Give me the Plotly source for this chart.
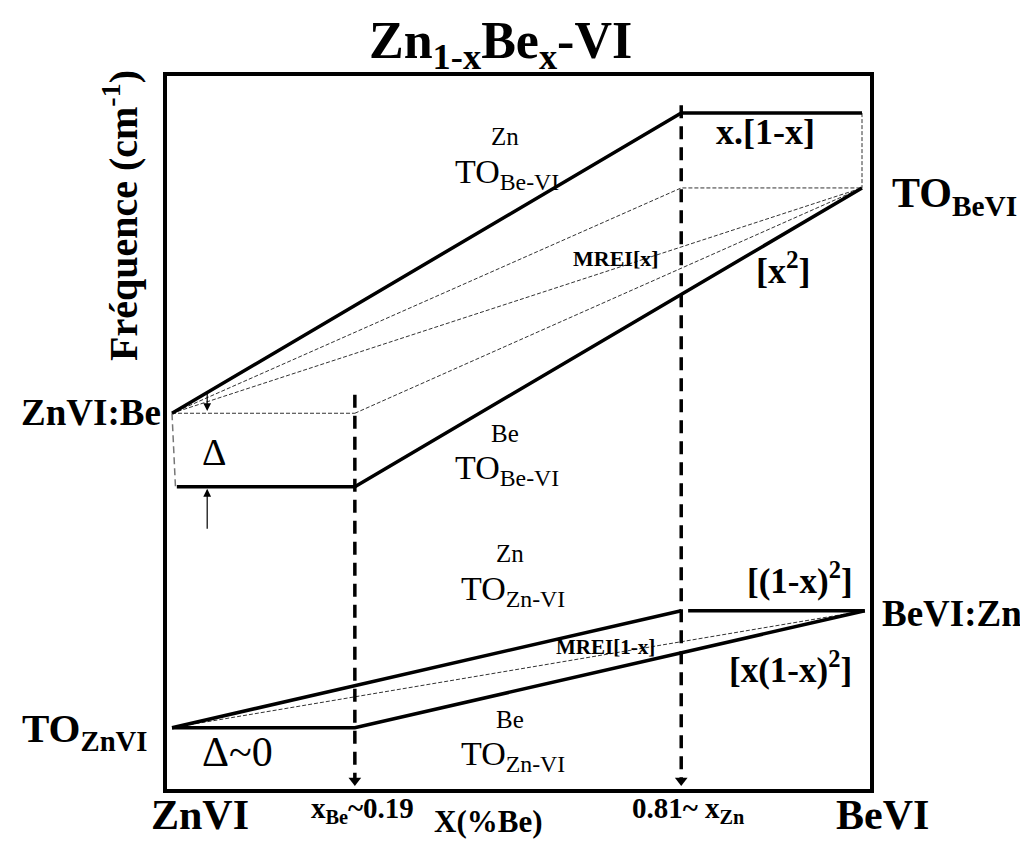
import plotly.graph_objects as go

# ---------------- data (schematic composition / frequency units) ----------------
# composition nodes along the x axis (schematic positions)
x_ZnVI = 0.0          # pure ZnVI end
x_Be_thr = 0.265      # x_Be ~ 0.19 percolation threshold
x_Zn_thr = 0.738      # 0.81 ~ x_Zn percolation threshold
x_BeVI = 1.0          # pure BeVI end

# frequencies (arbitrary units, 0 = bottom of frame, 100 = top)
f_ZnVI_Be = 52.7      # Be impurity mode in ZnVI  (ZnVI:Be)
f_Be_low = 42.4       # Be-rich Be-VI branch at dilute limit (Delta below)
f_Zn_top = 94.8       # Zn-like Be-VI branch at x_Zn
f_TO_BeVI = 84.3      # TO of pure BeVI
f_BeVI_Zn = 25.0      # Zn impurity mode in BeVI (BeVI:Zn)
f_TO_ZnVI = 8.6       # TO of pure ZnVI
f_vline_Be_top = 55.3 # top of the x_Be vertical marker
f_vline_Zn_top = 95.9 # top of the x_Zn vertical marker

# branch polylines built from the values above
upper_Zn_x = [x_ZnVI, x_Zn_thr, x_BeVI]
upper_Zn_y = [f_ZnVI_Be, f_Zn_top, f_Zn_top]
upper_Be_x = [x_ZnVI + 0.007, x_Be_thr, x_BeVI]
upper_Be_y = [f_Be_low, f_Be_low, f_TO_BeVI]

lower_Zn_x = [x_ZnVI, x_Zn_thr]
lower_Zn_y = [f_TO_ZnVI, f_BeVI_Zn]
lower_Zn2_x = [x_Zn_thr + 0.01, x_BeVI + 0.004]
lower_Zn2_y = [f_BeVI_Zn, f_BeVI_Zn]
lower_Be_x = [x_ZnVI, x_Be_thr, x_BeVI + 0.004]
lower_Be_y = [f_TO_ZnVI, f_TO_ZnVI, f_BeVI_Zn]

# thin dashed guide lines (MREI etc.)
guides = [
    ([x_ZnVI, x_Be_thr], [f_ZnVI_Be, f_ZnVI_Be]),
    ([x_ZnVI, x_Zn_thr, x_BeVI], [f_ZnVI_Be, f_TO_BeVI, f_TO_BeVI]),
    ([x_ZnVI, x_BeVI], [f_ZnVI_Be, f_TO_BeVI]),
    ([x_Be_thr, x_BeVI], [f_ZnVI_Be, f_TO_BeVI]),
    ([x_BeVI, x_BeVI], [f_Zn_top, f_TO_BeVI]),
    ([x_ZnVI, x_BeVI + 0.004], [f_TO_ZnVI, f_BeVI_Zn]),
]

# ---------------- figure ----------------
W, H = 1028, 841
OFF = 8                          # default page body margin
L, R, T, B = 167, 870, 76, 789   # frame in page pixels

fig = go.Figure()

BLACK = "#000000"
for gx, gy in guides:
    fig.add_trace(go.Scatter(x=gx, y=gy, mode="lines",
                             line=dict(color="#333333", width=1, dash="4px,2px"),
                             hoverinfo="skip"))
# Delta dashed vertical at left
fig.add_trace(go.Scatter(x=[x_ZnVI, x_ZnVI + 0.005], y=[f_ZnVI_Be, f_Be_low],
                         mode="lines", line=dict(color="#777777", width=1.5, dash="7px,4px"),
                         hoverinfo="skip"))

for xs, ys in [(upper_Zn_x, upper_Zn_y), (upper_Be_x, upper_Be_y),
               (lower_Zn_x, lower_Zn_y), (lower_Zn2_x, lower_Zn2_y),
               (lower_Be_x, lower_Be_y)]:
    fig.add_trace(go.Scatter(x=xs, y=ys, mode="lines",
                             line=dict(color=BLACK, width=3.5), hoverinfo="skip"))

# vertical threshold markers with arrowheads
for xv, ytop in [(x_Be_thr, f_vline_Be_top), (x_Zn_thr, f_vline_Zn_top)]:
    fig.add_trace(go.Scatter(x=[xv, xv], y=[ytop, 1.2], mode="lines",
                             line=dict(color=BLACK, width=3.5, dash="13px,8px"),
                             hoverinfo="skip"))
    fig.add_trace(go.Scatter(x=[xv], y=[1.2], mode="markers",
                             marker=dict(symbol="triangle-down", size=11, color=BLACK),
                             hoverinfo="skip"))

xr = [(L - 172) / 690, (R - 172) / 690]
fig.update_layout(
    width=W, height=H, autosize=False,
    margin=dict(l=L - OFF, r=W - (R - OFF), t=T - OFF, b=H - (B - OFF), pad=0),
    paper_bgcolor="white", plot_bgcolor="white",
    showlegend=False,
    xaxis=dict(range=xr, showgrid=False, zeroline=False, showticklabels=False,
               ticks="", showline=True, mirror=True, linewidth=4, linecolor=BLACK,
               fixedrange=True),
    yaxis=dict(range=[0, 100], showgrid=False, zeroline=False, showticklabels=False,
               ticks="", showline=True, mirror=True, linewidth=4, linecolor=BLACK,
               fixedrange=True),
)

SERIF = "Liberation Serif"

def P(px, py):
    return (px - L) / (R - L), (B - py) / (B - T)

anns = []

def txt(text, px, py, size, xanchor="center", yanchor="middle", angle=0):
    x, y = P(px, py)
    anns.append(dict(text=text, x=x, y=y, xref="paper", yref="paper",
                     xanchor=xanchor, yanchor=yanchor, showarrow=False,
                     textangle=angle,
                     font=dict(family=SERIF, size=size, color=BLACK)))

# title and axis titles
txt("<b>Zn<sub>1-x</sub>Be<sub>x</sub>-VI</b>", 500, 44, 52)
txt("<b>Fréquence (cm<sup>-1</sup>)</b>", 120, 216, 40, angle=-90)

# upper system labels
txt("<b>ZnVI:Be</b>", 163, 412, 37, xanchor="right")
txt("Δ", 214, 452, 38)
txt("Zn", 505, 136, 25)
txt("TO<sub>Be-VI</sub>", 507, 174, 34)
txt("<b>x.[1-x]</b>", 765, 132, 36)
txt("<b>TO<sub>BeVI</sub></b>", 890, 196, 42, xanchor="left")
txt("<b>MREI[x]</b>", 616, 259, 22)
txt("<b>[x<sup>2</sup>]</b>", 783, 268, 36)
txt("Be", 505, 433, 25)
txt("TO<sub>Be-VI</sub>", 507, 470, 34)

# lower system labels
txt("Zn", 510, 553, 25)
txt("TO<sub>Zn-VI</sub>", 513, 591, 34)
txt("<b>[(1-x)<sup>2</sup>]</b>", 800, 578, 35)
txt("<b>BeVI:Zn</b>", 880, 613, 37, xanchor="left")
txt("<b>MREI[1-x]</b>", 605, 647, 21)
txt("<b>[x(1-x)<sup>2</sup>]</b>", 790, 667, 35)
txt("<b>TO<sub>ZnVI</sub></b>", 84, 731, 41)
txt("Δ~0", 237, 752, 42)
txt("Be", 510, 719, 25)
txt("TO<sub>Zn-VI</sub>", 513, 756, 34)

# bottom labels
txt("<b>ZnVI</b>", 200, 815, 42)
txt("<b>x<sub>Be</sub>~0.19</b>", 362, 810, 29)
txt("<b>X(%Be)</b>", 488, 821, 31)
txt("<b>0.81~ x<sub>Zn</sub></b>", 688, 810, 29)
txt("<b>BeVI</b>", 882, 815, 42)

# small arrows marking Delta
arrow_x = 0.051
anns.append(dict(x=arrow_x, y=f_ZnVI_Be + 0.3, ax=arrow_x, ay=f_ZnVI_Be + 2.9,
                 xref="x", yref="y", axref="x", ayref="y", text="",
                 showarrow=True, arrowhead=2, arrowsize=1.3, arrowwidth=1.2,
                 arrowcolor=BLACK))
anns.append(dict(x=arrow_x, y=f_Be_low - 0.3, ax=arrow_x, ay=f_Be_low - 6.1,
                 xref="x", yref="y", axref="x", ayref="y", text="",
                 showarrow=True, arrowhead=2, arrowsize=1.3, arrowwidth=1.2,
                 arrowcolor=BLACK))

fig.update_layout(annotations=anns)
fig.write_html("out.html")
